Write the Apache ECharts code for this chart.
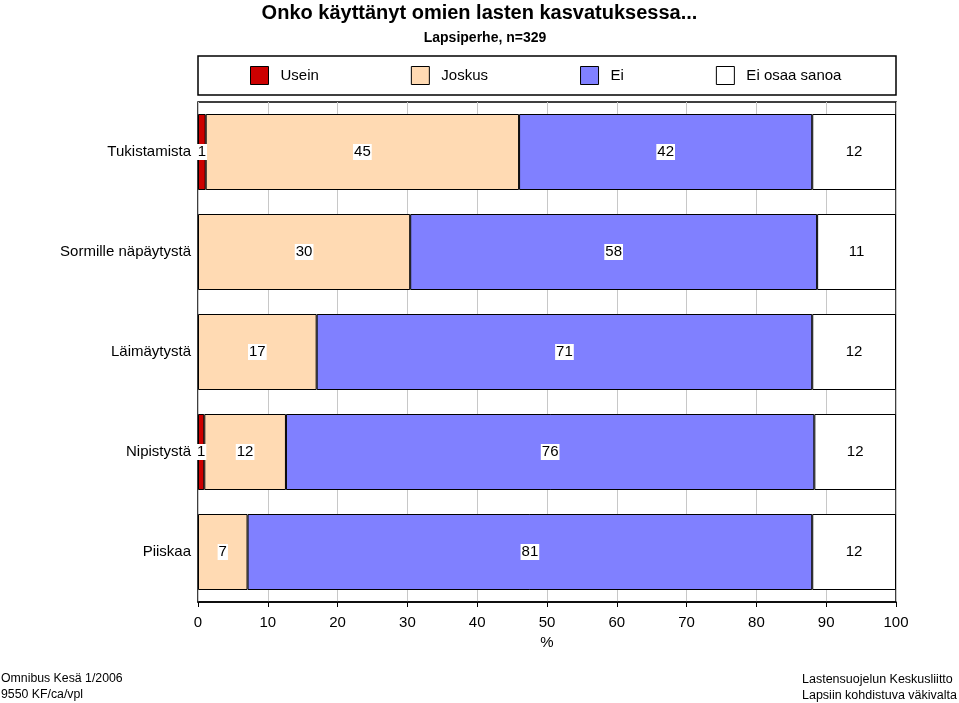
<!DOCTYPE html>
<html><head><meta charset="utf-8">
<script src="https://cdn.jsdelivr.net/npm/echarts@6/dist/echarts.min.js"></script>
<style>html,body{margin:0;padding:0;background:#fff}#c{width:959px;height:703px}</style>
</head><body><div id="c"></div>
<script>
const categories = ['Tukistamista', 'Sormille näpäytystä', 'Läimäytystä', 'Nipistystä', 'Piiskaa'];
const usein = [1.1, null, null, 0.9, null];
const joskus = [44.9, 30.4, 17.0, 11.7, 7.1];
const ei = [42.0, 58.3, 71.0, 75.7, 80.9];
const eiOsaa = [12.0, 11.3, 12.0, 11.7, 12.0];
const seriesNames = ['Usein', 'Joskus', 'Ei', 'Ei osaa sanoa'];
const colors = ['#CC0000', '#FFDAB3', '#8080FF', '#FFFFFF'];
const xTicks = [0, 10, 20, 30, 40, 50, 60, 70, 80, 90, 100];

const FONT = 'Liberation Sans, Arial, sans-serif';
const chart = echarts.init(document.getElementById('c'), null, {renderer: 'canvas'});
const dataSets = [usein, joskus, ei, eiOsaa];
const series = dataSets.map((d, i) => ({
  name: seriesNames[i],
  type: 'bar',
  stack: 'total',
  data: d,
  barWidth: '76%',
  itemStyle: {color: colors[i], borderColor: '#000', borderWidth: 1},
  label: {
    show: true,
    position: 'inside',
    formatter: p => (p.value == null ? '' : String(Math.round(p.value))),
    color: '#000',
    fontSize: 15,
    fontFamily: FONT,
    backgroundColor: '#fff',
    padding: [1, 1, 0, 1]
  },
  emphasis: {disabled: true},
  animation: false
}));

chart.setOption({
  animation: false,
  backgroundColor: '#fff',
  title: [
    {text: 'Onko käyttänyt omien lasten kasvatuksessa...', left: 'center', top: -2,
     textStyle: {fontSize: 20, fontWeight: 'bold', fontFamily: FONT, color: '#000'}},
    {text: 'Lapsiperhe, n=329', left: 480, top: 26, textAlign: 'center',
     textStyle: {fontSize: 14, fontWeight: 'bold', fontFamily: FONT, color: '#000'}}
  ],
  legend: {
    left: 245, top: 61,
    itemWidth: 18, itemHeight: 18, itemGap: 92,
    icon: 'rect',
    selectedMode: false,
    textStyle: {fontSize: 15, fontFamily: FONT, color: '#000', padding: [1, 0, 0, 7]},
    itemStyle: {borderColor: '#000', borderWidth: 1}
  },
  grid: {left: 198, right: 63, top: 102, bottom: 101, show: true, borderColor: '#000', borderWidth: 1.5, containLabel: false},
  xAxis: {
    type: 'value', min: 0, max: 100, interval: 10,
    name: '%', nameLocation: 'middle', nameGap: 33,
    nameTextStyle: {fontSize: 15, fontFamily: FONT, color: '#000'},
    axisLine: {show: true, lineStyle: {color: '#000', width: 1.5}},
    axisTick: {show: true, length: 5, lineStyle: {color: '#000'}},
    axisLabel: {fontSize: 15, fontFamily: FONT, color: '#000', margin: 13,
      formatter: v => (xTicks.indexOf(v) >= 0 ? String(v) : '')},
    splitLine: {show: true, lineStyle: {color: '#c8c8c8', width: 1}}
  },
  yAxis: {
    type: 'category', data: categories, inverse: true,
    axisLine: {show: false}, axisTick: {show: false},
    axisLabel: {fontSize: 15, fontFamily: FONT, color: '#000', margin: 7}
  },
  graphic: [
    {type: 'rect', shape: {x: 198, y: 56, width: 698, height: 39}, style: {fill: 'none', stroke: '#000', lineWidth: 1.5}, z: -1},
    {type: 'text', left: 1, top: 673, style: {text: 'Omnibus Kesä 1/2006', font: '12.3px ' + FONT, fill: '#000'}},
    {type: 'text', left: 1, top: 689, style: {text: '9550 KF/ca/vpl', font: '12.3px ' + FONT, fill: '#000'}},
    {type: 'text', left: 802, top: 673, style: {text: 'Lastensuojelun Keskusliitto', font: '12.5px ' + FONT, fill: '#000'}},
    {type: 'text', left: 802, top: 689, style: {text: 'Lapsiin kohdistuva väkivalta', font: '12.5px ' + FONT, fill: '#000'}}
  ],
  series: series
});
</script></body></html>
